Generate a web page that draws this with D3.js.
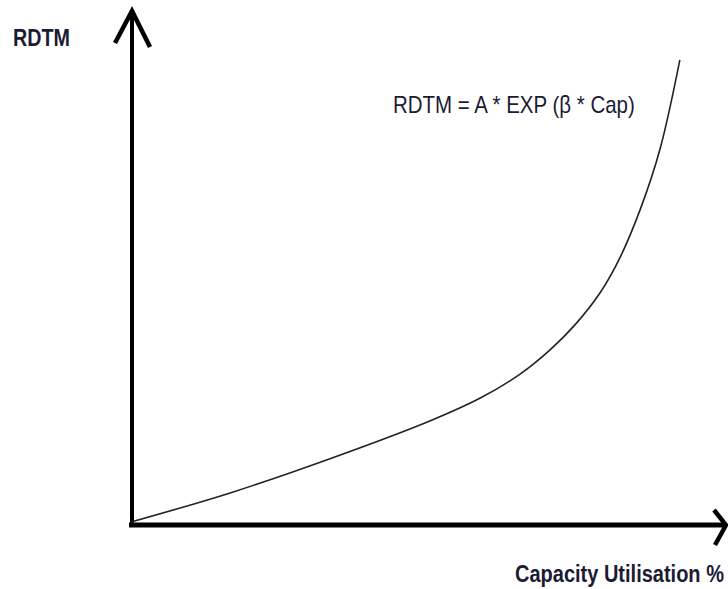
<!DOCTYPE html>
<html>
<head>
<meta charset="utf-8">
<script src="https://cdn.jsdelivr.net/npm/d3@7"></script>
<style>
  html, body { margin: 0; padding: 0; background: #fff; }
  svg { display: block; }
</style>
</head>
<body>
<svg id="chart" width="728" height="589"></svg>
<script>
// Capacity utilisation (%) and the matching RDTM level along the curve
const capacity = [0, 16.7, 33.5, 50.3, 58.8, 65.5, 70.5, 74.7, 79.0, 82.3, 85.7, 89.1, 92.4];
const rdtm     = [0, 5.7, 12.4, 19.8, 24.3, 29.0, 33.7, 38.6, 45.0, 51.8, 61.2, 73.3, 90.6];

const yLabel = "RDTM";
const xLabel = "Capacity Utilisation %";
const formula = "RDTM = A * EXP (\u03B2 * Cap)";

const svg = d3.select("#chart");

const x = d3.scaleLinear().domain([0, 100]).range([131, 725]);
const y = d3.scaleLinear().domain([0, 100]).range([522, 12]);

const axisColor = "#000";
const textColor = "#1b1b33";
const narrow = "'Liberation Sans Narrow', 'Arial Narrow', 'Liberation Sans', Arial, sans-serif";

// Vertical axis with open arrow head
svg.append("line")
  .attr("x1", x(0) + 1).attr("x2", x(0) + 1)
  .attr("y1", 527).attr("y2", 11)
  .attr("stroke", axisColor).attr("stroke-width", 4);
svg.append("path")
  .attr("d", "M115,43 L132,11 L150,47")
  .attr("fill", "none").attr("stroke", axisColor)
  .attr("stroke-width", 4.5).attr("stroke-linejoin", "miter");

// Horizontal axis with open arrow head
svg.append("line")
  .attr("x1", 129).attr("x2", 725)
  .attr("y1", 525).attr("y2", 525)
  .attr("stroke", axisColor).attr("stroke-width", 5);
svg.append("path")
  .attr("d", "M714,510 L726,525 L715,545")
  .attr("fill", "none").attr("stroke", axisColor)
  .attr("stroke-width", 4.5).attr("stroke-linejoin", "miter");

// Exponential curve
const pts = capacity.map((c, i) => [c, rdtm[i]]);
const line = d3.line()
  .x(d => x(d[0]))
  .y(d => y(d[1]))
  .curve(d3.curveCatmullRom.alpha(0.5));
svg.append("path")
  .datum(pts)
  .attr("d", line)
  .attr("fill", "none")
  .attr("stroke", "#222")
  .attr("stroke-width", 1.6);

// Labels, squeezed horizontally to a narrow width
function narrowText(str, left, baseline, width, bold) {
  const g = svg.append("g");
  const t = g.append("text")
    .attr("x", 0).attr("y", 0)
    .attr("font-family", narrow)
    .attr("font-weight", bold ? "bold" : "normal")
    .attr("font-size", 23)
    .attr("fill", textColor)
    .text(str);
  const natural = t.node().getComputedTextLength();
  g.attr("transform", `translate(${left},${baseline}) scale(${width / natural},1)`);
}

narrowText(yLabel, 13, 46, 57, true);
narrowText(formula, 393, 113, 242, false);
narrowText(xLabel, 515, 582, 209, true);
</script>
</body>
</html>
